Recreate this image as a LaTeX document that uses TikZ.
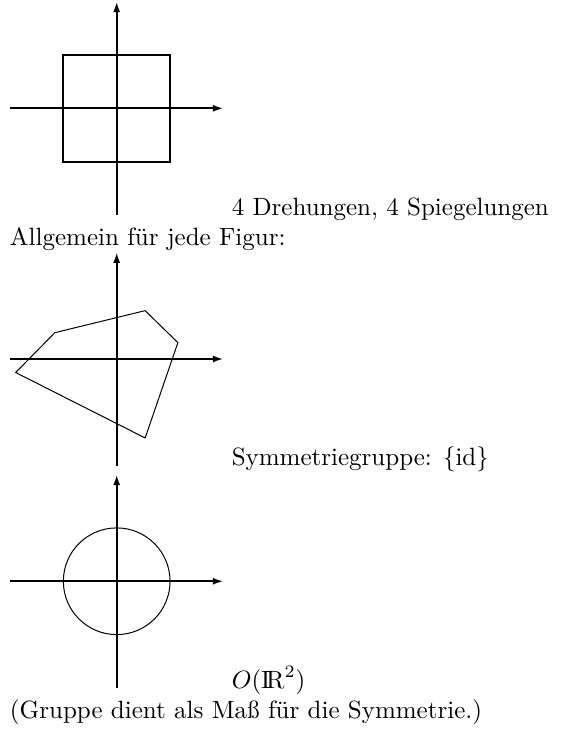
\documentclass[tikz,border=0pt]{standalone}
\usetikzlibrary{arrows.meta}
\begin{document}
\begin{tikzpicture}[
  axis/.style={line width=0.8pt,-{Latex[length=4.2pt,width=2.8pt]}},
  thickshape/.style={line width=0.8pt},
  thinshape/.style={line width=0.4pt},
  txt/.style={anchor=base west,inner sep=0pt,outer sep=0pt,font=\normalsize}
]
\useasboundingbox (0,0) rectangle (228.4pt,-291.6pt);
% Figure 1
\begin{scope}[shift={(46.68pt,-43.32pt)}]
  \coordinate (a1l) at (-1.5,0); \coordinate (a1r) at (1.5,0);
  \coordinate (a1b) at (0,-1.5); \coordinate (a1t) at (0,1.5);
  \draw[thickshape] (-0.75,-0.75) rectangle (0.75,0.75);
  \draw[axis] (a1l) -- (a1r);
  \draw[axis] (a1b) -- (a1t);
\end{scope}
\node[txt] (t1) at (92.7pt,-86pt) {4 Drehungen, 4 Spiegelungen};
\node[txt] (t2) at (4pt,-98pt) {Allgemein f\"ur jede Figur:};
% Figure 2
\begin{scope}[shift={(46.68pt,-143.6pt)}]
  \coordinate (a2l) at (-1.5,0); \coordinate (a2r) at (1.5,0);
  \coordinate (a2b) at (0,-1.5); \coordinate (a2t) at (0,1.5);
  \draw[thinshape,line join=miter] (-1.42,-0.19) -- (-0.87,0.37) -- (0.40,0.68) -- (0.86,0.23) -- (0.40,-1.11) -- cycle;
  \draw[axis] (a2l) -- (a2r);
  \draw[axis] (a2b) -- (a2t);
\end{scope}
\node[txt] (t3) at (92.7pt,-186.3pt) {Symmetriegruppe: $\{\mathrm{id}\}$};
% Figure 3
\begin{scope}[shift={(46.68pt,-232.5pt)}]
  \coordinate (a3l) at (-1.5,0); \coordinate (a3r) at (1.5,0);
  \coordinate (a3b) at (0,-1.5); \coordinate (a3t) at (0,1.5);
  \draw[thinshape] (0,0) circle (0.75);
  \draw[axis] (a3l) -- (a3r);
  \draw[axis] (a3b) -- (a3t);
\end{scope}
\node[txt] (t4) at (92.7pt,-275.2pt) {$O(\mathrm{I\!R}^2)$};
\node[txt] (t5) at (4pt,-287.2pt) {(Gruppe dient als Ma\ss{} f\"ur die Symmetrie.)};
\end{tikzpicture}
\end{document}
